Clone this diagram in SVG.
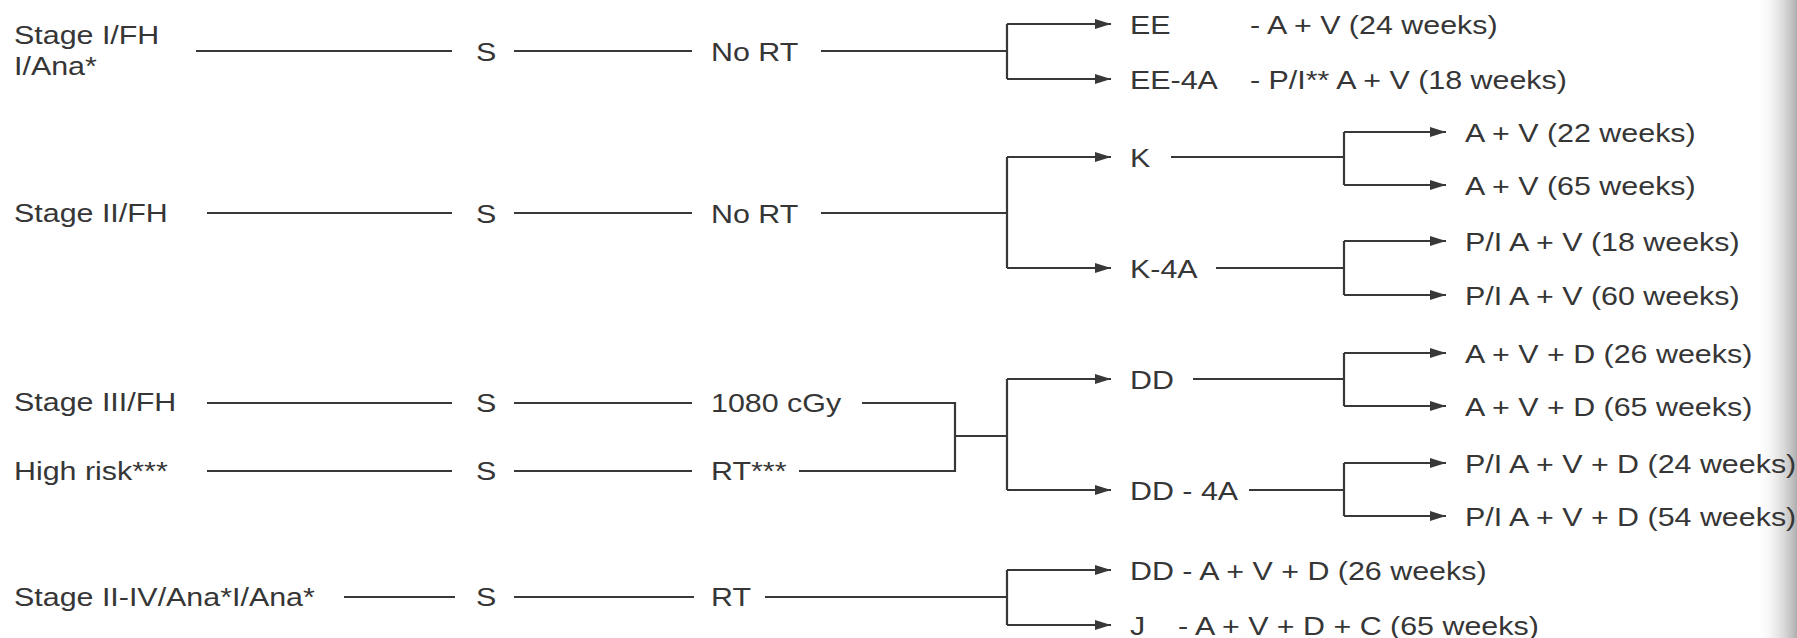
<svg xmlns="http://www.w3.org/2000/svg" width="1797" height="638" viewBox="0 0 1797 638">
<style>
text{font-family:"Liberation Sans",Arial,Helvetica,sans-serif;font-size:26px;fill:#363636}
.c{fill:none;stroke:#383838;stroke-width:2.2}
.a{marker-end:url(#ah)}
</style>
<defs>
<marker id="ah" markerUnits="userSpaceOnUse" markerWidth="16" markerHeight="10" refX="16" refY="5" orient="auto"><path d="M0,0 L16,5 L0,10 z" fill="#383838"/></marker>
<linearGradient id="edge" x1="0" y1="0" x2="1" y2="0"><stop offset="0" stop-color="#fff" stop-opacity="0"/><stop offset="1" stop-color="#9a9a9a" stop-opacity="0.8"/></linearGradient>
</defs>
<rect width="1797" height="638" fill="#fff"/>
<rect x="1755" y="0" width="42" height="638" fill="url(#edge)"/>
<g id="connectors">
<path class="c" d="M196,51 H452 M514,51 H692 M821,51 H1007 M1007,24 V79"/>
<path class="c a" d="M1007,24 H1111"/><path class="c a" d="M1007,79 H1111"/>
<path class="c" d="M207,213 H452 M514,213 H692 M821,213 H1007 M1007,157 V268"/>
<path class="c a" d="M1007,157 H1111"/><path class="c a" d="M1007,268 H1111"/>
<path class="c" d="M1171,157 H1344 M1344,132 V185"/>
<path class="c a" d="M1344,132 H1446"/><path class="c a" d="M1344,185 H1446"/>
<path class="c" d="M1216,268 H1344 M1344,241 V295"/>
<path class="c a" d="M1344,241 H1446"/><path class="c a" d="M1344,295 H1446"/>
<path class="c" d="M207,403 H452 M514,403 H692 M862,403 H955 M207,471 H452 M514,471 H692 M799,471 H955 M955,402 V472 M955,436 H1007 M1007,379 V490"/>
<path class="c a" d="M1007,379 H1111"/><path class="c a" d="M1007,490 H1111"/>
<path class="c" d="M1193,379 H1344 M1344,353 V406"/>
<path class="c a" d="M1344,353 H1446"/><path class="c a" d="M1344,406 H1446"/>
<path class="c" d="M1249,490 H1344 M1344,463 V516"/>
<path class="c a" d="M1344,463 H1446"/><path class="c a" d="M1344,516 H1446"/>
<path class="c" d="M344,597 H455 M514,597 H694 M765,597 H1007 M1007,570 V625"/>
<path class="c a" d="M1007,570 H1111"/><path class="c a" d="M1007,625 H1111"/>
</g>
<g id="stage1"><text transform="translate(14,44) scale(1.17,1)">Stage I/FH</text><text transform="translate(14,75) scale(1.17,1)">I/Ana*</text></g>
<g id="stage2"><text transform="translate(14,222) scale(1.17,1)">Stage II/FH</text></g>
<g id="stage3"><text transform="translate(14,411) scale(1.17,1)">Stage III/FH</text></g>
<g id="highrisk"><text transform="translate(14,480) scale(1.17,1)">High risk***</text></g>
<g id="stage4"><text transform="translate(14,606) scale(1.17,1)">Stage II-IV/Ana*I/Ana*</text></g>
<g id="s1"><text transform="translate(476,61) scale(1.17,1)">S</text></g>
<g id="s2"><text transform="translate(476,223) scale(1.17,1)">S</text></g>
<g id="s3"><text transform="translate(476,412) scale(1.17,1)">S</text></g>
<g id="s4"><text transform="translate(476,480) scale(1.17,1)">S</text></g>
<g id="s5"><text transform="translate(476,606) scale(1.17,1)">S</text></g>
<g id="nort1"><text transform="translate(711,61) scale(1.17,1)">No RT</text></g>
<g id="nort2"><text transform="translate(711,223) scale(1.17,1)">No RT</text></g>
<g id="cgy"><text transform="translate(711,412) scale(1.17,1)">1080 cGy</text></g>
<g id="rt3"><text transform="translate(711,480) scale(1.17,1)">RT***</text></g>
<g id="rt"><text transform="translate(711,606) scale(1.17,1)">RT</text></g>
<g id="ee"><text transform="translate(1130,34) scale(1.17,1)">EE</text><text transform="translate(1250,34) scale(1.17,1)">- A + V (24 weeks)</text></g>
<g id="ee4a"><text transform="translate(1130,89) scale(1.17,1)">EE-4A</text><text transform="translate(1250,89) scale(1.17,1)">- P/I** A + V (18 weeks)</text></g>
<g id="k"><text transform="translate(1130,167) scale(1.17,1)">K</text></g>
<g id="k4a"><text transform="translate(1130,278) scale(1.17,1)">K-4A</text></g>
<g id="dd"><text transform="translate(1130,389) scale(1.17,1)">DD</text></g>
<g id="dd4a"><text transform="translate(1130,500) scale(1.17,1)">DD - 4A</text></g>
<g id="ddr"><text transform="translate(1130,580) scale(1.17,1)">DD - A + V + D (26 weeks)</text></g>
<g id="j"><text transform="translate(1130,635) scale(1.17,1)">J</text><text transform="translate(1178,635) scale(1.17,1)">- A + V + D + C (65 weeks)</text></g>
<g id="k1"><text transform="translate(1465,142) scale(1.17,1)">A + V (22 weeks)</text></g>
<g id="k2"><text transform="translate(1465,195) scale(1.17,1)">A + V (65 weeks)</text></g>
<g id="k4a1"><text transform="translate(1465,251) scale(1.17,1)">P/I A + V (18 weeks)</text></g>
<g id="k4a2"><text transform="translate(1465,305) scale(1.17,1)">P/I A + V (60 weeks)</text></g>
<g id="dd1"><text transform="translate(1465,363) scale(1.17,1)">A + V + D (26 weeks)</text></g>
<g id="dd2"><text transform="translate(1465,416) scale(1.17,1)">A + V + D (65 weeks)</text></g>
<g id="dd4a1"><text transform="translate(1465,473) scale(1.17,1)">P/I A + V + D (24 weeks)</text></g>
<g id="dd4a2"><text transform="translate(1465,526) scale(1.17,1)">P/I A + V + D (54 weeks)</text></g>
</svg>
